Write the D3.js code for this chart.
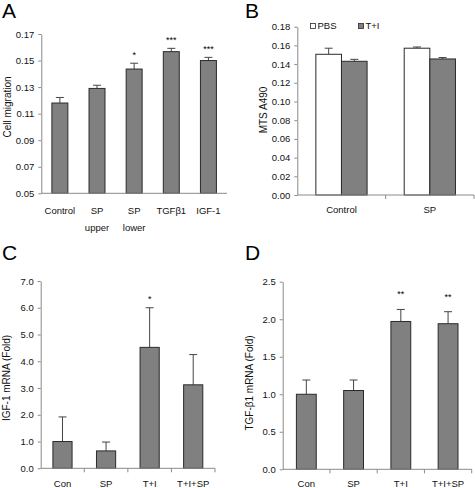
<!DOCTYPE html>
<html><head><meta charset="utf-8">
<script src="https://cdn.jsdelivr.net/npm/d3@7/dist/d3.min.js"></script>
<style>body{margin:0;background:#fff}svg{display:block}text{font-family:Arial,"Liberation Sans",sans-serif}</style>
</head><body><svg id="c" width="475" height="488"></svg>
<script>
// Panel A
const aCats = [["Control"],["SP","upper"],["SP","lower"],["TGFβ1"],["IGF-1"]];
const aVals = [0.118,0.129,0.1436,0.1567,0.150];
const aErr  = [0.0042,0.0024,0.0044,0.0025,0.0024];
const aSig  = ["","","*","***","***"];
const aTicks = [0.05,0.07,0.09,0.11,0.13,0.15,0.17];
// Panel B
const bCats = ["Control","SP"];
const bSeries = ["PBS","T+I"];
const bPBS = [0.1505,0.157];
const bPBSerr = [0.0065,0.0013];
const bTI = [0.143,0.1455];
const bTIerr = [0.0021,0.0015];
const bTicks = [0,0.02,0.04,0.06,0.08,0.10,0.12,0.14,0.16,0.18];
// Panel C
const cCats = ["Con","SP","T+I","T+I+SP"];
const cVals = [1.0,0.65,4.52,3.12];
const cErr  = [0.92,0.33,1.48,1.13];
const cSig  = ["","","*",""];
const cTicks = [0,1,2,3,4,5,6,7];
// Panel D
const dCats = ["Con","SP","T+I","T+I+SP"];
const dVals = [1.0,1.05,1.97,1.94];
const dErr  = [0.19,0.14,0.16,0.16];
const dSig  = ["","","**","**"];
const dTicks = [0,0.5,1.0,1.5,2.0,2.5];

const svg = d3.select("#c");
const AX = "#8a8a8a", BAR = "#808080", EDGE = "#2a2a2a";

function yAxis(g, y, ticks, fmt, x0){
  const ax = d3.axisLeft(y).tickValues(ticks).tickFormat(d3.format(fmt)).tickSize(3).tickSizeOuter(0).tickPadding(4);
  const gg = g.append("g").attr("transform",`translate(${x0},0)`).call(ax);
  gg.selectAll("path,line").attr("stroke",AX);
  gg.selectAll("text").attr("font-size",9.5).attr("fill","#111");
  return gg;
}
function xAxis(g, x, yb, ticks){
  const [r0,r1] = x.range();
  g.append("line").attr("x1",r0).attr("x2",r1).attr("y1",yb).attr("y2",yb).attr("stroke",AX);
  if(ticks){
    const n = x.domain().length;
    for(let i=1;i<=n;i++){
      const xx = r0 + x.step()*i;
      g.append("line").attr("x1",xx).attr("x2",xx).attr("y1",yb).attr("y2",yb+4).attr("stroke",AX);
    }
  }
}
function bar(g,x0,w,y,v,err,fill){
  g.append("line").attr("x1",x0+w/2).attr("x2",x0+w/2).attr("y1",y(v)).attr("y2",y(v+err)).attr("stroke","#444").attr("stroke-width",1);
  g.append("line").attr("x1",x0+w/2-4).attr("x2",x0+w/2+4).attr("y1",y(v+err)).attr("y2",y(v+err)).attr("stroke","#444").attr("stroke-width",1);
  g.append("rect").attr("x",x0).attr("y",y(v)).attr("width",w).attr("height",y.range()[0]-y(v))
   .attr("fill",fill).attr("stroke",EDGE).attr("stroke-width",1);
}
function letter(t,x,y){ svg.append("text").attr("x",x).attr("y",y).attr("font-size",21).text(t); }
function ylab(t,x,y){ svg.append("text").attr("transform",`translate(${x},${y}) rotate(-90)`).attr("text-anchor","middle").attr("font-size",10).attr("fill","#111").text(t); }

// ---- A ----
{
  const g = svg.append("g");
  const y = d3.scaleLinear().domain([0.05,0.17]).range([193.3,34]);
  const x = d3.scaleBand().domain(aCats.map(d=>d.join(" "))).range([41.3,227]);
  const w = x.bandwidth()*0.43;
  yAxis(g,y,aTicks,".2f",41.3);
  aCats.forEach((c,i)=>{
    const cx = x(c.join(" "))+x.bandwidth()/2;
    bar(g,cx-w/2,w,y,aVals[i],aErr[i],BAR);
    if(aSig[i]) g.append("text").attr("x",cx).attr("y",y(aVals[i]+aErr[i])-5).attr("text-anchor","middle").attr("font-size",9).text(aSig[i]);
    c.forEach((t,j)=>g.append("text").attr("x",cx).attr("y",214+j*17).attr("text-anchor","middle").attr("font-size",9.5).attr("fill","#111").text(t));
  });
  xAxis(g,x,193.3,false);
  letter("A",2,18);
  ylab("Cell migration",11,107);
}
// ---- B ----
{
  const g = svg.append("g");
  const y = d3.scaleLinear().domain([0,0.18]).range([195,26.7]);
  const x = d3.scaleBand().domain(bCats).range([297.3,474]);
  const gw = x.bandwidth()*0.58, w = gw/2;
  yAxis(g,y,bTicks,".2f",297.3);
  bCats.forEach((c,i)=>{
    const cx = x(c)+x.bandwidth()/2;
    bar(g,cx-gw/2,w,y,bPBS[i],bPBSerr[i],"#fff");
    bar(g,cx,w,y,bTI[i],bTIerr[i],BAR);
    g.append("text").attr("x",cx).attr("y",213).attr("text-anchor","middle").attr("font-size",9.5).attr("fill","#111").text(c);
  });
  xAxis(g,x,195,true);
  const lx = [310.5,358.5], fills = ["#fff",BAR];
  bSeries.forEach((s,i)=>{
    g.append("rect").attr("x",lx[i]).attr("y",23.5).attr("width",5).attr("height",5).attr("fill",fills[i]).attr("stroke",EDGE).attr("stroke-width",0.8);
    g.append("text").attr("x",lx[i]+7).attr("y",29).attr("font-size",9.5).attr("fill","#111").text(s);
  });
  letter("B",245,18);
  ylab("MTS A490",267,110);
}
// ---- C ----
{
  const g = svg.append("g");
  const y = d3.scaleLinear().domain([0,7]).range([468.3,281]);
  const x = d3.scaleBand().domain(cCats).range([40.7,215]);
  const w = x.bandwidth()*0.44;
  yAxis(g,y,cTicks,".1f",40.7);
  cCats.forEach((c,i)=>{
    const cx = x(c)+x.bandwidth()/2;
    bar(g,cx-w/2,w,y,cVals[i],cErr[i],BAR);
    if(cSig[i]) g.append("text").attr("x",cx).attr("y",y(cVals[i]+cErr[i])-6).attr("text-anchor","middle").attr("font-size",9).text(cSig[i]);
    g.append("text").attr("x",cx).attr("y",487).attr("text-anchor","middle").attr("font-size",9.5).attr("fill","#111").text(c);
  });
  xAxis(g,x,468.3,true);
  letter("C",2,260);
  ylab("IGF-1 mRNA (Fold)",10,378);
}
// ---- D ----
{
  const g = svg.append("g");
  const y = d3.scaleLinear().domain([0,2.5]).range([469.3,281.7]);
  const x = d3.scaleBand().domain(dCats).range([282.7,471.7]);
  const w = x.bandwidth()*0.42;
  yAxis(g,y,dTicks,".1f",282.7);
  dCats.forEach((c,i)=>{
    const cx = x(c)+x.bandwidth()/2;
    bar(g,cx-w/2,w,y,dVals[i],dErr[i],BAR);
    if(dSig[i]) g.append("text").attr("x",cx).attr("y",y(dVals[i]+dErr[i])-12).attr("text-anchor","middle").attr("font-size",9).text(dSig[i]);
    g.append("text").attr("x",cx).attr("y",487).attr("text-anchor","middle").attr("font-size",9.5).attr("fill","#111").text(c);
  });
  xAxis(g,x,469.3,true);
  letter("D",245,260);
  ylab("TGF-β1 mRNA (Fold)",253,383);
}
</script></body></html>
